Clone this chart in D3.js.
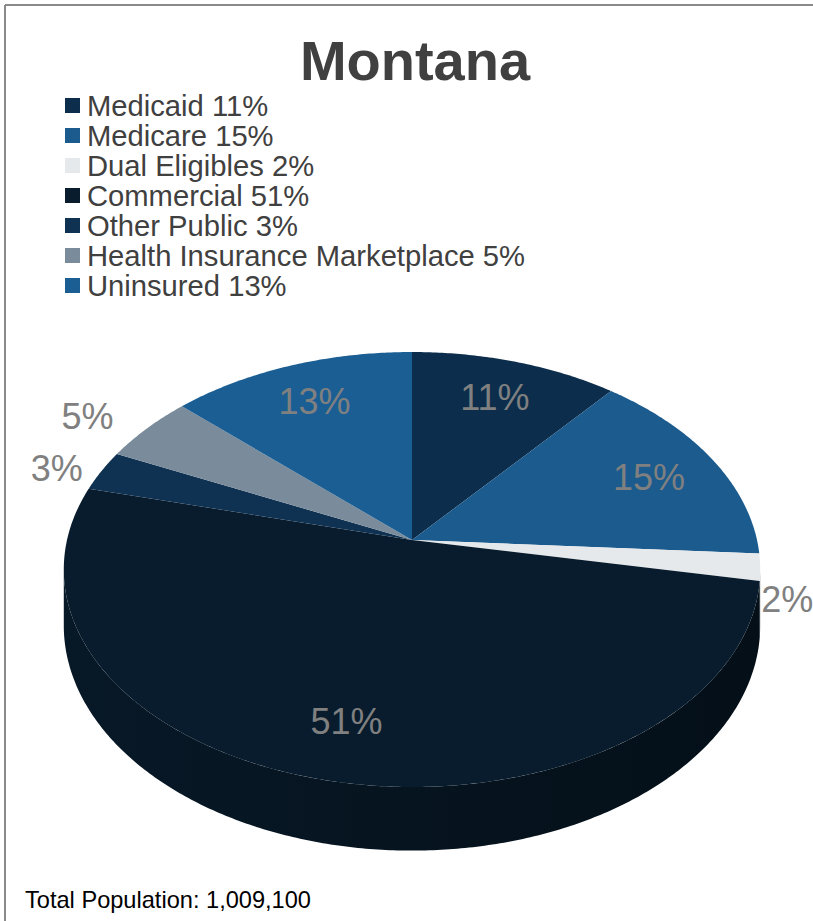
<!DOCTYPE html>
<html>
<head>
<meta charset="utf-8">
<script src="https://cdn.jsdelivr.net/npm/d3@7"></script>
<style>
  body { margin: 0; background: #fff; }
  svg { display: block; font-family: "Liberation Sans", Arial, sans-serif; }
</style>
</head>
<body>
<svg id="chart" width="813" height="921"></svg>
<script>
// data
const categories = ["Medicaid", "Medicare", "Dual Eligibles", "Commercial", "Other Public", "Health Insurance Marketplace", "Uninsured"];
const shares = [11, 15, 2, 51, 3, 5, 13];
const colors = ["#0c2e4c", "#1b5b8e", "#e6e9ec", "#081c2d", "#0f3152", "#7a8c9b", "#1a5e94"];
const titleText = "Montana";
const footnote = "Total Population: 1,009,100";

const svg = d3.select("#chart");

// frame (only top and left edges show in the crop)
svg.append("line").attr("x1", 5).attr("x2", 813).attr("y1", 5).attr("y2", 5)
  .attr("stroke", "#8a8a8a").attr("stroke-width", 2);
svg.append("line").attr("x1", 5).attr("x2", 5).attr("y1", 5).attr("y2", 921)
  .attr("stroke", "#8a8a8a").attr("stroke-width", 2);

svg.append("text").attr("x", 415).attr("y", 80).attr("text-anchor", "middle")
  .attr("font-size", 56).attr("font-weight", "bold").attr("fill", "#404040")
  .text(titleText);

// legend
const color = d3.scaleOrdinal().domain(categories).range(colors);
const legendY = d3.scalePoint().domain(categories).range([105.5, 285.5]);
const legend = svg.append("g").selectAll("g").data(categories).join("g")
  .attr("transform", d => `translate(65,${legendY(d)})`);
legend.append("rect").attr("x", 0).attr("y", -7.5).attr("width", 15).attr("height", 15)
  .attr("fill", d => color(d));
legend.append("text").attr("x", 22).attr("y", 10).attr("font-size", 29.2).attr("fill", "#404040")
  .text((d, i) => `${d} ${shares[i]}%`);

// 3D pie with perspective
const cx = 412, cy = 540, R = 345, K = 213.5, D = 7.374, H = 55;
// angle a (clockwise from top), radius r (0..1), drop = wall depth
function project(a, r, drop) {
  const x = Math.sin(a) * r, z = -Math.cos(a) * r;
  const s = D / (D - z);
  return [cx + R * x * s, cy + (K * z + (drop || 0)) * s];
}
const line = d3.line();
const pie = d3.pie().sort(null).value(d => d)(shares);

function arcPts(a0, a1, r, drop) {
  const n = Math.max(2, Math.ceil((a1 - a0) / 0.01));
  return d3.range(n + 1).map(i => project(a0 + (a1 - a0) * i / n, r, drop));
}

// outer wall visible between the silhouette angles
const aVis0 = Math.acos(-1 / D), aVis1 = 2 * Math.PI - aVis0;
const defs = svg.append("defs");
const wall = svg.append("g");
pie.forEach((p, i) => {
  const a0 = Math.max(p.startAngle, aVis0), a1 = Math.min(p.endAngle, aVis1);
  if (a1 <= a0) return;
  const gid = "wall" + i;
  const base = d3.color(colors[i]);
  const g = defs.append("linearGradient").attr("id", gid)
    .attr("gradientUnits", "userSpaceOnUse")
    .attr("x1", cx - R).attr("x2", cx + R).attr("y1", 0).attr("y2", 0);
  g.append("stop").attr("offset", 0).attr("stop-color", base.darker(0.4));
  g.append("stop").attr("offset", 0.5).attr("stop-color", base.darker(1.0));
  g.append("stop").attr("offset", 1).attr("stop-color", base.darker(1.8));
  const top = arcPts(a0, a1, 1, 0);
  const bot = arcPts(a0, a1, 1, H).reverse();
  wall.append("path").attr("d", line(top.concat(bot)) + "Z").attr("fill", `url(#${gid})`);
});

// top faces
svg.append("g").selectAll("path").data(pie).join("path")
  .attr("d", p => line([project(0, 0)].concat(arcPts(p.startAngle, p.endAngle, 1, 0))) + "Z")
  .attr("fill", (p, i) => colors[i]);

// data labels: inside for large slices, outside for small
const labels = svg.append("g").attr("font-size", 36).attr("fill", "#808080");
pie.forEach(p => {
  const mid = (p.startAngle + p.endAngle) / 2;
  const txt = p.value + "%";
  if (p.value >= 10) {
    const [x, y] = project(mid, 0.78);
    labels.append("text").attr("x", x).attr("y", y + 13).attr("text-anchor", "middle").text(txt);
  } else {
    const [ex] = project(mid, 1);
    const z = -Math.cos(mid);
    const right = Math.sin(mid) > 0;
    const out = 1.0 + (p.value >= 4 ? 0.12 : 0.05);
    const [x, y] = project(mid, out, z > 0 ? H * 0.55 : 0);
    labels.append("text").attr("x", right ? ex + 1 : x - 4).attr("y", y + 13)
      .attr("text-anchor", right ? "start" : "end").text(txt);
  }
});

svg.append("text").attr("x", 25).attr("y", 908).attr("font-size", 23.6).attr("fill", "#000")
  .text(footnote);
</script>
</body>
</html>
